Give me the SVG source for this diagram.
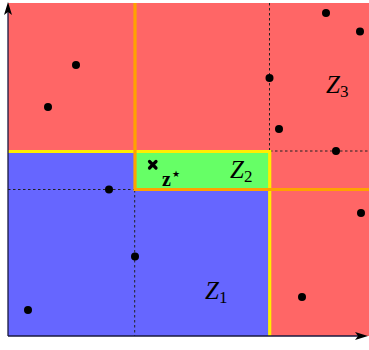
<svg xmlns="http://www.w3.org/2000/svg" width="369" height="350" viewBox="0 0 369 350">
<style>
.dot{fill:#000}
.dash{stroke:#222;stroke-width:1;stroke-dasharray:2.5,2.5;fill:none}
.yel{stroke:#ffee00;stroke-width:3.2;fill:none}
.org{stroke:#ffa200;stroke-width:3.2;fill:none}
.lbl{font-family:"Liberation Serif",serif;font-style:italic;font-size:25px;fill:#000}
.sub{font-size:17px;font-style:normal}
.axis{stroke:#1a1a40;stroke-width:1.3;fill:none}
</style>
<g id="regions">
<rect x="8" y="3" width="361" height="333" fill="#ff6666"/>
<rect id="Z1" x="8" y="152" width="262" height="184" fill="#6666ff"/>
<rect id="Z2" x="135" y="152" width="135" height="38" fill="#66ff66"/>
</g>
<g id="connectors">
<path class="dash" d="M269.5,3 V152 M270,151 H369 M8,189.5 H135 M134.7,190 V336"/>
<path class="yel" d="M8,151.5 H269.7 V336"/>
<path class="org" d="M135,3 V189.5 H369"/>
</g>
<g id="points">
<circle class="dot" cx="76" cy="65" r="4"/>
<circle class="dot" cx="48" cy="107" r="4"/>
<circle class="dot" cx="326" cy="13" r="4"/>
<circle class="dot" cx="360" cy="31.5" r="4"/>
<circle class="dot" cx="269.5" cy="78" r="4"/>
<circle class="dot" cx="279" cy="129" r="4"/>
<circle class="dot" cx="336" cy="151" r="4"/>
<circle class="dot" cx="109" cy="189.5" r="4"/>
<circle class="dot" cx="135" cy="256.5" r="4"/>
<circle class="dot" cx="28" cy="310" r="4"/>
<circle class="dot" cx="361" cy="213" r="4"/>
<circle class="dot" cx="302" cy="297" r="4"/>
</g>
<g id="zstar">
<path d="M149.5,161.5 L156,168 M156,161.5 L149.5,168" stroke="#000" stroke-width="3.2" stroke-linecap="round"/>
<text x="162" y="186" font-family="Liberation Serif, serif" font-weight="bold" font-size="20">z<tspan font-family="DejaVu Sans, sans-serif" font-size="9" font-weight="normal" dx="1" dy="-9">★</tspan></text>
</g>
<g id="labels">
<text class="lbl" x="230" y="178">Z<tspan class="sub" dy="4">2</tspan></text>
<text class="lbl" x="326" y="93">Z<tspan class="sub" dy="4">3</tspan></text>
<text class="lbl" x="205" y="299">Z<tspan class="sub" dy="4">1</tspan></text>
</g>
<g id="axes">
<path class="axis" d="M8,336 V8 M8,336 H362"/>
<path d="M8,2 L12,15 L8,12 L4,15 Z" fill="#000"/>
<path d="M368,336 L355,340 L358,336 L355,332 Z" fill="#000"/>
</g>
</svg>
